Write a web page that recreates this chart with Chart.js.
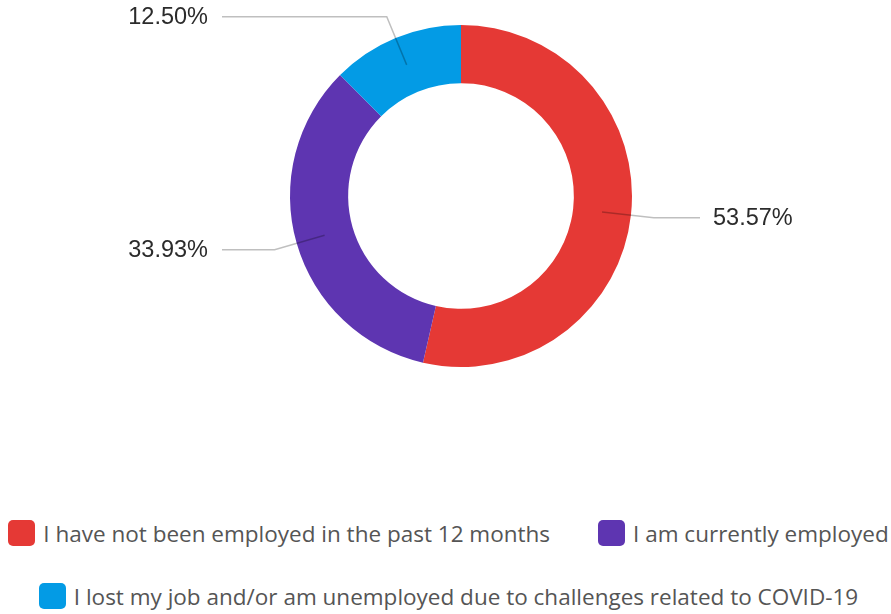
<!DOCTYPE html>
<html>
<head>
<meta charset="utf-8">
<script src="https://cdn.jsdelivr.net/npm/chart.js@4/dist/chart.umd.min.js"></script>
<style>
  html,body{margin:0;padding:0;background:#fff;}
  #wrap{position:relative;width:891px;height:614px;overflow:hidden;}
  #chartBox{position:absolute;left:0;top:0;width:891px;height:420px;}
  #legend{position:absolute;left:3px;top:520px;width:891px;display:flex;flex-wrap:wrap;justify-content:center;column-gap:48px;row-gap:37px;
    font-family:"Open Sans",sans-serif;font-size:22.5px;color:#555;}
  .item{display:flex;align-items:center;height:26px;white-space:nowrap;}
  .swatch{width:27px;height:26px;border-radius:5px;margin-right:8px;flex:none;}
</style>
</head>
<body>
<div id="wrap">
  <div id="chartBox"><canvas id="donut"></canvas></div>
  <div id="legend"></div>
</div>
<script>
// Employment status answers (percent of respondents)
const categories=[
  "I have not been employed in the past 12 months",
  "I am currently employed",
  "I lost my job and/or am unemployed due to challenges related to COVID-19"
];
const shares=[53.57,33.93,12.50];
const colors=["#e53935","#5e35b1","#039be5"];

// leader lines + percentage labels next to each slice
const leaderLabels={
  id:"leaderLabels",
  afterDatasetsDraw(chart){
    const ctx=chart.ctx;
    const arcs=chart.getDatasetMeta(0).data;
    ctx.save();
    arcs.forEach((arc,i)=>{
      const {x,y,startAngle,endAngle,innerRadius,outerRadius}=arc.getProps(["x","y","startAngle","endAngle","innerRadius","outerRadius"],true);
      const mid=(startAngle+endAngle)/2;
      const rIn=(innerRadius+outerRadius)/2;
      const rOut=outerRadius+23;
      const x0=x+Math.cos(mid)*rIn, y0=y+Math.sin(mid)*rIn;
      const x1=x+Math.cos(mid)*rOut, y1=y+Math.sin(mid)*rOut;
      const right=Math.cos(mid)>=0;
      const x2=right? x+239 : x-239;
      ctx.strokeStyle="rgba(0,0,0,0.25)";
      ctx.lineWidth=1.5;
      ctx.beginPath();
      ctx.moveTo(x0,y0);
      ctx.lineTo(x1,y1);
      ctx.lineTo(x2,y1);
      ctx.stroke();
      ctx.fillStyle="#2b2b2b";
      ctx.font='23.5px "Liberation Sans", Arial, sans-serif';
      ctx.textBaseline="middle";
      ctx.textAlign=right?"left":"right";
      ctx.fillText(shares[i].toFixed(2)+"%", right? x2+13 : x2-14, y1+1);
    });
    ctx.restore();
  }
};

new Chart(document.getElementById("donut"),{
  type:"doughnut",
  data:{labels:categories,datasets:[{data:shares,backgroundColor:colors,borderWidth:0}]},
  options:{
    responsive:true, maintainAspectRatio:false, animation:false,
    cutout:"66%",
    layout:{padding:{left:31,right:0,top:25,bottom:53}},
    plugins:{legend:{display:false},tooltip:{enabled:false}}
  },
  plugins:[leaderLabels]
});

// legend under the chart
const legendEl=document.getElementById("legend");
categories.forEach((c,i)=>{
  const item=document.createElement("div");
  item.className="item";
  item.innerHTML=`<span class="swatch" style="background:${colors[i]}"></span><span>${c}</span>`;
  legendEl.appendChild(item);
});
</script>
</body>
</html>
